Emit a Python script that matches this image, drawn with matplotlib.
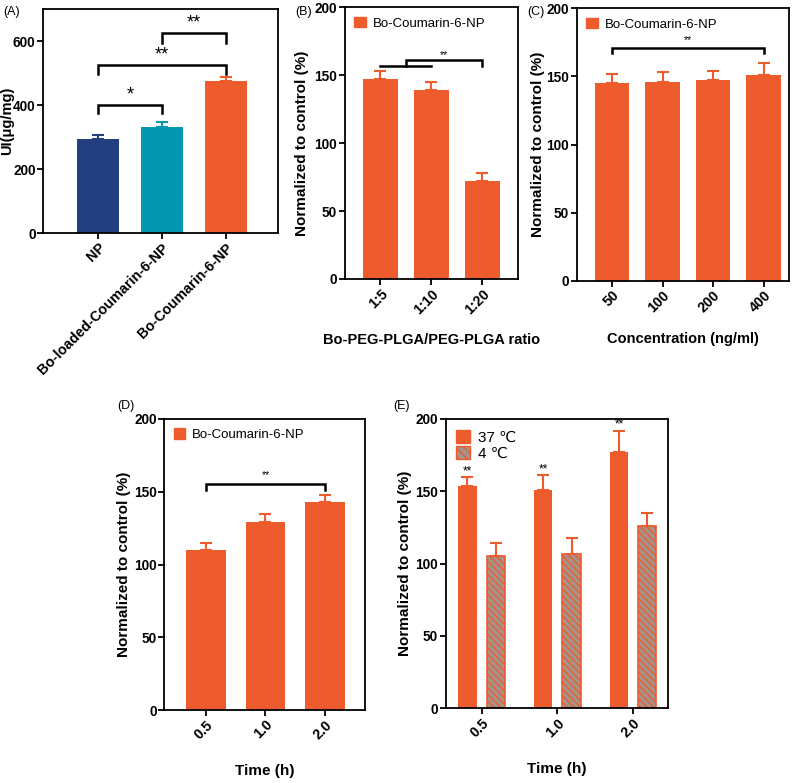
import numpy as np
import matplotlib
matplotlib.use("Agg")
import matplotlib.pyplot as plt
from matplotlib.patches import Patch

plt.rcParams['font.family'] = ['Liberation Sans', 'DejaVu Sans']
plt.rcParams['hatch.linewidth'] = 1.0

ORANGE = "#ee5b2d"
NAVY = "#233f80"
TEAL = "#0597b1"
HATCH_FILL = "#a4948c"

# (A) uptake
a_labels = ["NP", "Bo-loaded-Coumarin-6-NP", "Bo-Coumarin-6-NP"]
a_values = [294, 330, 474]
a_err = [13, 18, 15]
a_colors = [NAVY, TEAL, ORANGE]

# (B) ratio
b_labels = ["1:5", "1:10", "1:20"]
b_values = [147, 139, 72]
b_err = [6, 6, 6]

# (C) concentration
c_labels = ["50", "100", "200", "400"]
c_values = [145, 146, 147, 151]
c_err = [7, 7, 7, 9]

# (D) time
d_labels = ["0.5", "1.0", "2.0"]
d_values = [110, 129, 143]
d_err = [5, 6, 5]

# (E) temperature
e_labels = ["0.5", "1.0", "2.0"]
e_37 = [154, 151, 177]
e_37_err = [6, 10, 15]
e_4 = [105, 107, 126]
e_4_err = [9, 11, 9]

TICK_FS = 9.8
YLABEL_FS = 11
XLABEL_FS = 10.5


def style_axes(ax, ylim, yticks, labels, ylabel, ylab_x, ylab_fs=YLABEL_FS):
    ax.set_ylim(*ylim)
    ax.set_yticks(yticks)
    ax.set_xticks(np.arange(len(labels)))
    ax.set_xticklabels(labels, rotation=45, ha="right", rotation_mode="anchor",
                       fontsize=TICK_FS + 0.5, fontweight="bold")
    for t in ax.get_yticklabels():
        t.set_fontsize(TICK_FS)
        t.set_fontweight("bold")
    for s in ax.spines.values():
        s.set_linewidth(1.3)
    ax.tick_params(width=1.3, length=4, pad=1.5)
    ax.set_ylabel(ylabel, fontsize=ylab_fs, fontweight="bold")
    ax.yaxis.set_label_coords(ylab_x, 0.5)


def bars(ax, x, vals, err, color, width, **kw):
    ax.bar(x, vals, width=width, color=color, zorder=2, **kw)
    ax.errorbar(x, vals, yerr=[np.zeros(len(vals)), err], fmt="none",
                ecolor=color, elinewidth=1.5, capsize=4, capthick=1.5, zorder=1)


def bracket(ax, x1, x2, y, drop, text, fs, ty=0):
    ax.plot([x1, x1, x2, x2], [y - drop, y, y, y - drop], color="black", lw=1.8,
            solid_joinstyle="miter")
    ax.text((x1 + x2) / 2, y + ty, text, ha="center", va="bottom", fontsize=fs)


def legend_orange(ax):
    ax.legend(handles=[Patch(color=ORANGE, label="Bo-Coumarin-6-NP")], loc="upper left",
              frameon=False, fontsize=9.5, handlelength=0.9, handleheight=0.9,
              handletextpad=0.5, borderaxespad=0.3)


fig = plt.figure(figsize=(8, 7.83), dpi=100)

# Panel A
ax = fig.add_axes([0.054, 0.7024, 0.2935, 0.2861])
xa = np.arange(len(a_labels))
for i in range(len(a_labels)):
    bars(ax, [xa[i]], [a_values[i]], [a_err[i]], a_colors[i], 0.66)
ax.set_xlim(-0.86, 2.82)
style_axes(ax, (0, 700), [0, 200, 400, 600], a_labels, "UI(μg/mg)", -0.125, ylab_fs=10.5)
bracket(ax, 0, 1, 400, 25, "*", 13, ty=5)
bracket(ax, 0, 2, 524, 27, "**", 13, ty=5)
bracket(ax, 1, 2, 624, 29, "**", 13, ty=5)

# Panel B
ax = fig.add_axes([0.431, 0.6437, 0.2165, 0.347])
xb = np.arange(len(b_labels))
bars(ax, xb, b_values, b_err, ORANGE, 0.69)
ax.set_xlim(-0.7, 2.7)
style_axes(ax, (0, 200), [0, 50, 100, 150, 200], b_labels, "Normalized to control (%)", -0.205)
ax.set_xlabel("Bo-PEG-PLGA/PEG-PLGA ratio", fontsize=XLABEL_FS, fontweight="bold", labelpad=12)
ax.plot([0, 1], [157, 157], color="black", lw=1.8)
bracket(ax, 0.5, 2, 161, 4, "**", 7.5, ty=0.5)
legend_orange(ax)

# Panel C
ax = fig.add_axes([0.721, 0.6415, 0.265, 0.3479])
xc = np.arange(len(c_labels))
bars(ax, xc, c_values, c_err, ORANGE, 0.68)
ax.set_xlim(-0.7, 3.5)
style_axes(ax, (0, 200), [0, 50, 100, 150, 200], c_labels, "Normalized to control (%)", -0.15)
ax.set_xlabel("Concentration (ng/ml)", fontsize=XLABEL_FS, fontweight="bold", labelpad=12)
bracket(ax, 0, 3, 171, 4, "**", 7.5, ty=2)
legend_orange(ax)

# Panel D
ax = fig.add_axes([0.2054, 0.0932, 0.2506, 0.3717])
xd = np.arange(len(d_labels))
bars(ax, xd, d_values, d_err, ORANGE, 0.67)
ax.set_xlim(-0.7, 2.67)
style_axes(ax, (0, 200), [0, 50, 100, 150, 200], d_labels, "Normalized to control (%)", -0.165)
ax.set_xlabel("Time (h)", fontsize=XLABEL_FS + 0.5, fontweight="bold", labelpad=16)
bracket(ax, 0, 2, 155, 4, "**", 7.5, ty=3)
legend_orange(ax)

# Panel E
ax = fig.add_axes([0.557, 0.0954, 0.278, 0.3695])
xe = np.arange(len(e_labels))
off, w = 0.187, 0.24
bars(ax, xe - off, e_37, e_37_err, ORANGE, w)
ax.bar(xe + off, e_4, width=w, color=HATCH_FILL, edgecolor=ORANGE, hatch="\\\\\\\\\\",
       linewidth=1.2, zorder=2)
ax.errorbar(xe + off, e_4, yerr=[np.zeros(3), e_4_err], fmt="none", ecolor=ORANGE,
            elinewidth=1.5, capsize=4, capthick=1.5, zorder=1)
for i in range(len(e_labels)):
    ax.text(xe[i] - off, e_37[i] + e_37_err[i] + 4, "**", ha="center", va="center", fontsize=8.5)
ax.set_xlim(-0.475, 2.46)
style_axes(ax, (0, 200), [0, 50, 100, 150, 200], e_labels, "Normalized to control (%)", -0.15)
ax.set_xlabel("Time (h)", fontsize=XLABEL_FS + 0.5, fontweight="bold", labelpad=16)
ax.legend(handles=[Patch(color=ORANGE, label="37 ℃"),
                   Patch(facecolor=HATCH_FILL, edgecolor=ORANGE, hatch="\\\\\\\\", label="4 ℃")],
          loc="upper left", frameon=False, fontsize=11, handlelength=0.9, handleheight=1.0,
          handletextpad=0.5, borderaxespad=0.3, labelspacing=0.05)

# panel letters
for x, y, s in [(0.004, 0.985, "(A)"), (0.369, 0.985, "(B)"), (0.659, 0.985, "(C)"),
                (0.146, 0.482, "(D)"), (0.491, 0.482, "(E)")]:
    fig.text(x, y, s, fontsize=9, va="center")

fig.savefig("out.png", dpi=100)
